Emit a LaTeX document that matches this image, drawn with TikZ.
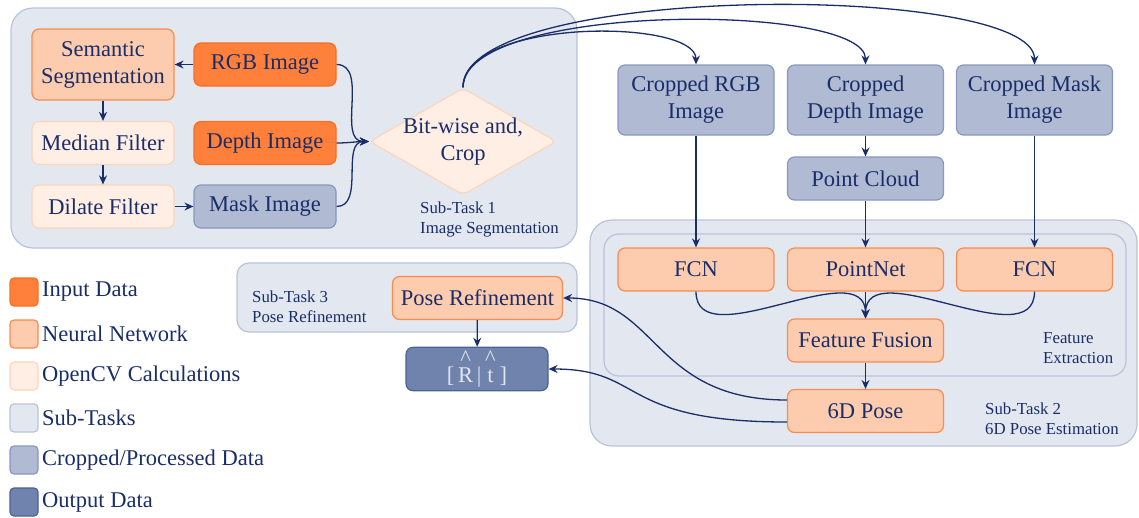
\documentclass[tikz,border=0pt]{standalone}
\usepackage{fontspec}
\setmainfont{Liberation Serif}
\usetikzlibrary{shapes.geometric,arrows.meta}

\definecolor{navy}{RGB}{25,45,105}
\definecolor{inputfill}{RGB}{255,128,58}
\definecolor{inputdraw}{RGB}{250,110,35}
\definecolor{nnfill}{RGB}{253,204,174}
\definecolor{nndraw}{RGB}{247,140,80}
\definecolor{cvfill}{RGB}{255,238,228}
\definecolor{cvdraw}{RGB}{253,212,188}
\definecolor{taskfill}{RGB}{227,232,240}
\definecolor{taskdraw}{RGB}{184,195,217}
\definecolor{cropfill}{RGB}{176,186,211}
\definecolor{cropdraw}{RGB}{136,152,188}
\definecolor{outfill}{RGB}{111,131,172}
\definecolor{outdraw}{RGB}{76,98,148}
\definecolor{outtext}{RGB}{225,229,240}

\begin{document}
\begin{tikzpicture}[x=1pt,y=-1pt,
  every node/.style={text=navy},
  block/.style={rounded corners=7pt, line width=1.2pt, align=center, inner sep=3pt,
    minimum height=43pt, font=\fontsize{22.5}{27}\selectfont},
  inputdata/.style={block, fill=inputfill, draw=inputdraw},
  network/.style={block, fill=nnfill, draw=nndraw},
  opencv/.style={block, fill=cvfill, draw=cvdraw},
  cropped/.style={block, fill=cropfill, draw=cropdraw},
  output/.style={block, fill=outfill, draw=outdraw, text=outtext},
  subtask/.style={rounded corners=22pt, fill=taskfill, draw=taskdraw, line width=1.2pt},
  tasklabel/.style={align=left, anchor=west, inner sep=0pt, font=\fontsize{16.8}{20}\selectfont},
  key/.style={rounded corners=4pt, line width=1.2pt, minimum size=28pt, inner sep=0pt},
  flow/.style={draw=navy, line width=1.3pt, -{Stealth[length=9pt,width=8pt,inset=3pt]}}
]
\useasboundingbox (0,0) rectangle (1139,517);

% sub-task frames
\draw[subtask] (11,8) rectangle (577,248);
\draw[subtask] (590,220) rectangle (1137,446);
\draw[subtask, rounded corners=15pt] (604,234) rectangle (1126,376);
\draw[subtask, rounded corners=12pt] (237,263) rectangle (577,332);
\node[tasklabel] (lab1) at (420,219) {Sub-Task 1\\Image Segmentation};
\node[tasklabel] (lab2) at (985,419) {Sub-Task 2\\6D Pose Estimation};
\node[tasklabel] (lab3) at (252,307) {Sub-Task 3\\Pose Refinement};
\node[tasklabel] (labfe) at (1043,348) {Feature\\Extraction};

% sub-task 1
\node[network, minimum width=142pt, minimum height=71pt] (semseg) at (103,64.5) {Semantic\\Segmentation};
\node[inputdata, minimum width=142pt] (rgb) at (265,64.5) {RGB Image};
\node[opencv, minimum width=142pt] (median) at (103,143) {Median Filter};
\node[inputdata, minimum width=142pt] (depth) at (265,143) {Depth Image};
\node[opencv, minimum width=142pt] (dilate) at (103,206.5) {Dilate Filter};
\node[cropped, minimum width=142pt] (mask) at (265,206.5) {Mask Image};
\node[diamond, aspect=1.75, fill=cvfill, draw=cvdraw, line width=1.2pt, rounded corners=6pt,
  minimum width=187pt, minimum height=107pt, inner sep=-7pt, align=center,
  font=\fontsize{22.5}{27}\selectfont] (bitand) at (463,141.5) {Bit-wise and,\\Crop};

% sub-task 2
\node[cropped, minimum width=156pt, minimum height=70pt] (crgb) at (696,100) {Cropped RGB\\Image};
\node[cropped, minimum width=156pt, minimum height=70pt] (cdepth) at (865.5,100) {Cropped\\Depth Image};
\node[cropped, minimum width=156pt, minimum height=70pt] (cmask) at (1034.5,100) {Cropped Mask\\Image};
\node[cropped, minimum width=156pt] (cloud) at (865.5,178.5) {Point Cloud};
\node[network, minimum width=156pt] (fcnrgb) at (696,269.5) {FCN};
\node[network, minimum width=156pt] (pointnet) at (865.5,269.5) {PointNet};
\node[network, minimum width=156pt] (fcnmask) at (1034.5,269.5) {FCN};
\node[network, minimum width=156pt] (fusion) at (865.5,340.5) {Feature Fusion};
\node[network, minimum width=156pt] (pose) at (865.5,411) {6D Pose};

% sub-task 3
\node[network, minimum width=170pt] (refine) at (477.5,298) {Pose Refinement};
\node[output, minimum width=142pt] (rt) at (477,369)
  {[\,\shortstack{\textasciicircum\\R}\,|\,\shortstack{\textasciicircum\\\vphantom{R}t}\,]};

% legend
\foreach \fillc/\drawc/\name [count=\i] in {inputfill/inputdraw/Input Data,
    nnfill/nndraw/Neural Network, cvfill/cvdraw/OpenCV Calculations,
    taskfill/taskdraw/Sub-Tasks, cropfill/cropdraw/{Cropped/Processed Data},
    outfill/outdraw/Output Data}{
  \node[key, fill=\fillc, draw=\drawc] (key\i) at (24,250+42*\i) {};
  \node[anchor=west, inner sep=1pt, font=\fontsize{22.5}{27}\selectfont] (keytext\i) at (41,250+42*\i) {\name};
}

% connections
\draw[flow] (rgb) -- (semseg);
\draw[flow] (semseg) -- (median);
\draw[flow] (median) -- (dilate);
\draw[flow] (dilate) -- (mask);
\draw[flow] (rgb.east) to[out=0,in=180] (bitand.west);
\draw[flow] (depth.east) to[out=0,in=180] (bitand.west);
\draw[flow] (mask.east) to[out=0,in=180] (bitand.west);
\draw[flow] (bitand.north) .. controls (463,18) and (696,18) .. (crgb.north);
\draw[flow] (bitand.north) .. controls (463,2) and (865.5,2) .. (cdepth.north);
\draw[flow] (bitand.north) .. controls (463,-18) and (1034.5,-18) .. (cmask.north);
\draw[flow] (crgb) -- (fcnrgb);
\draw[flow] (cdepth) -- (cloud);
\draw[flow] (cloud) -- (pointnet);
\draw[flow] (cmask) -- (fcnmask);
\draw[flow] (fcnrgb.south) to[out=-90,in=90] (fusion.north);
\draw[flow] (pointnet) -- (fusion);
\draw[flow] (fcnmask.south) to[out=-90,in=90] (fusion.north);
\draw[flow] (fusion) -- (pose);
\draw[flow] ([yshift=11pt]pose.west) .. controls +(-135,0) and +(95,0) .. (refine.east);
\draw[flow] ([yshift=-11pt]pose.west) .. controls +(-170,0) and +(97,0) .. (rt.east);
\draw[flow] (refine) -- (rt);
\end{tikzpicture}
\end{document}
